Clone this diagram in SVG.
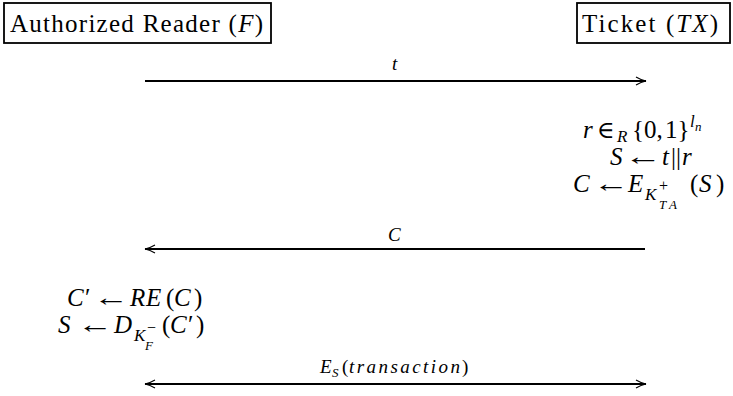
<svg xmlns="http://www.w3.org/2000/svg" width="733" height="396" viewBox="0 0 733 396">
<style>
text{font-family:"Liberation Serif","DejaVu Serif",serif;fill:#000}
.h{font-size:25px}
.m{font-size:25px}
.i{font-style:italic}
.sb{font-size:17px;font-style:italic}
.ss{font-size:13px}
.pm{font-size:16px}
.ar{font-size:25px}
.l{font-size:19px;font-style:italic}
.box{fill:#fff;stroke:#000;stroke-width:1.8}
.c{stroke:#000;stroke-width:1.8;fill:none}
</style>
<defs>
<marker id="ah" viewBox="0 0 12 10" refX="11" refY="5" markerWidth="12" markerHeight="10" markerUnits="userSpaceOnUse" orient="auto-start-reverse">
<path d="M1,1 Q6,4 11,5 Q6,6 1,9" fill="none" stroke="#000" stroke-width="1.1"/>
</marker>
</defs>
<rect width="733" height="396" fill="#fff"/>
<g id="reader">
<rect class="box" x="4" y="3" width="267" height="40"/>
<text class="h" x="10" y="32" textLength="253">Authorized Reader (<tspan class="i">F</tspan>)</text>
</g>
<g id="ticket">
<rect class="box" x="577" y="3" width="153" height="40"/>
<text class="h" x="582" y="32" textLength="136">Ticket (<tspan class="i">TX</tspan>)</text>
</g>
<g id="connectors">
<line class="c" x1="145" y1="81" x2="646" y2="81" marker-end="url(#ah)"/>
<text class="l" x="392" y="70">t</text>
<line class="c" x1="645" y1="249" x2="145" y2="249" marker-end="url(#ah)"/>
<text class="l" x="388" y="241">C</text>
<line class="c" x1="145" y1="384" x2="646" y2="384" marker-start="url(#ah)" marker-end="url(#ah)"/>
<text class="l" y="373"><tspan x="320">E</tspan><tspan x="332" y="377" font-size="13">S</tspan><tspan x="342" y="373" font-style="normal">(</tspan><tspan x="349" textLength="111">transaction</tspan><tspan x="462" font-style="normal">)</tspan></text>
</g>
<g id="ticket-computation">
<text class="m" y="138"><tspan class="i" x="583">r</tspan><tspan x="597" font-size="24">∈</tspan><tspan class="sb" x="617" y="142">R</tspan><tspan x="632" y="138">{0,</tspan><tspan x="665">1}</tspan><tspan class="sb" x="690" y="127">l</tspan><tspan class="i ss" x="695" y="131">n</tspan></text>
<text class="m" y="165"><tspan class="i" x="610">S</tspan><tspan class="i" x="662">t</tspan><tspan x="671">||</tspan><tspan class="i" x="682">r</tspan></text>
<text class="ar" x="624" y="165" textLength="38" lengthAdjust="spacingAndGlyphs">←</text>
<text class="m" y="192"><tspan class="i" x="573">C</tspan><tspan class="i" x="628">E</tspan><tspan class="sb" x="645" y="200">K</tspan><tspan class="pm" x="659" y="191">+</tspan><tspan class="i ss" x="659" y="209">T</tspan><tspan class="i ss" x="669" y="209">A</tspan><tspan x="690" y="192">(</tspan><tspan class="i" x="699">S</tspan><tspan x="716">)</tspan></text>
<text class="ar" x="593" y="192" textLength="36" lengthAdjust="spacingAndGlyphs">←</text>
</g>
<g id="reader-computation">
<text class="m" y="306"><tspan class="i" x="67">C</tspan><tspan x="85">′</tspan><tspan class="i" x="130">R</tspan><tspan class="i" x="146">E</tspan><tspan x="166">(</tspan><tspan class="i" x="174">C</tspan><tspan x="194">)</tspan></text>
<text class="ar" x="93" y="306" textLength="36" lengthAdjust="spacingAndGlyphs">←</text>
<text class="m" y="333"><tspan class="i" x="58">S</tspan><tspan class="i" x="114">D</tspan><tspan class="sb" x="134" y="341">K</tspan><tspan class="pm" x="147" y="333">−</tspan><tspan class="i ss" x="145" y="350">F</tspan><tspan x="162" y="333">(</tspan><tspan class="i" x="170">C</tspan><tspan x="188">′</tspan><tspan x="196">)</tspan></text>
<text class="ar" x="77" y="333" textLength="36" lengthAdjust="spacingAndGlyphs">←</text>
</g>
</svg>
